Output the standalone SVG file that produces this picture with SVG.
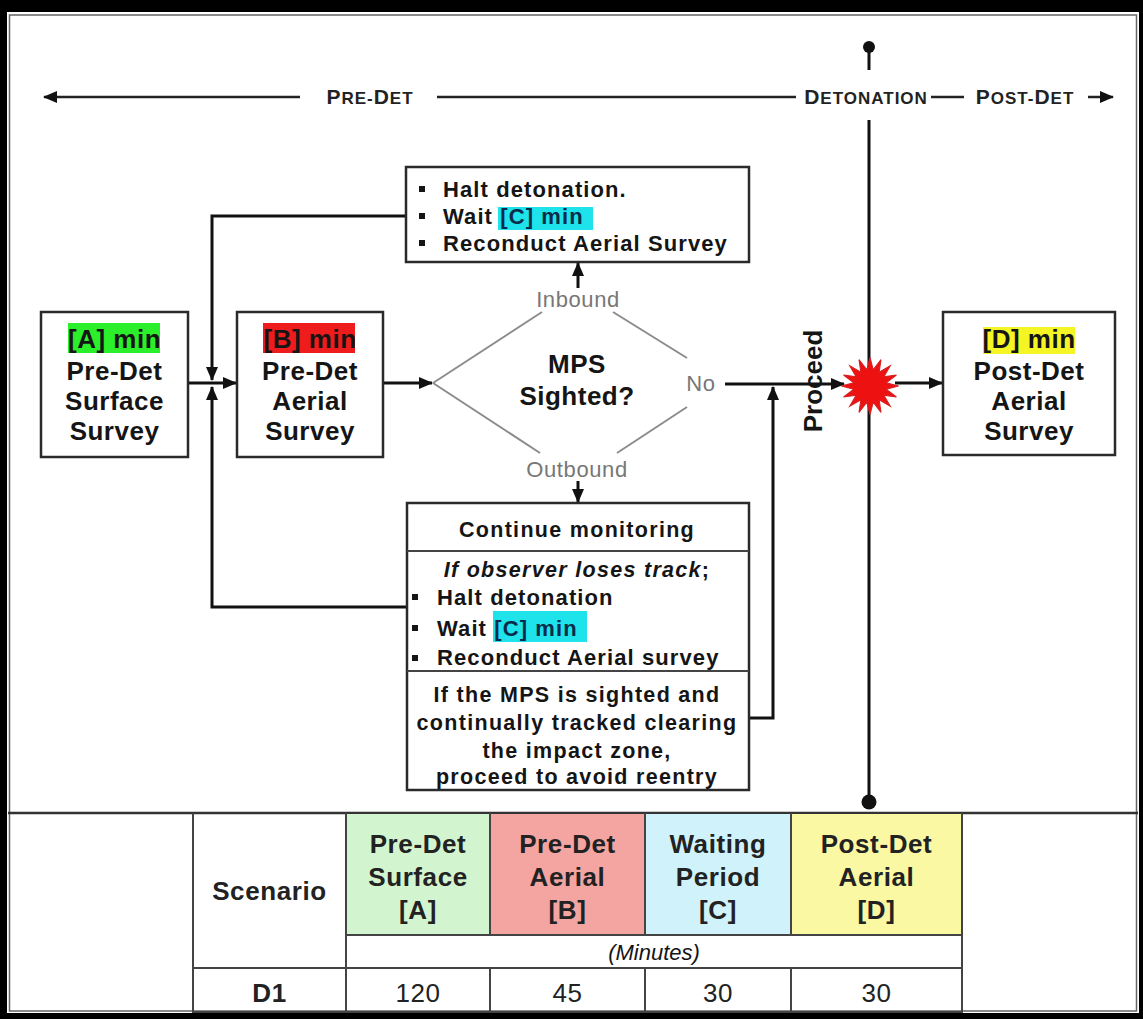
<svg xmlns="http://www.w3.org/2000/svg" width="1143" height="1019" viewBox="0 0 1143 1019">
<defs>
<style>
.box{fill:#fff;stroke:#2a2a2a;stroke-width:2.5}
.conn{fill:none;stroke:#111;stroke-width:3}
.tline{fill:none;stroke:#222;stroke-width:2.5}
.gray{fill:none;stroke:#8c8c8c;stroke-width:2}
.grid{fill:none;stroke:#444;stroke-width:2}
.t{font-family:"Liberation Sans",Arial,sans-serif;fill:#151515}
.nb{font-size:26px;font-weight:bold;text-anchor:middle;letter-spacing:0.5px}
.bl{font-size:22px;font-weight:bold;letter-spacing:1.1px}
.bc{font-size:21.5px;font-weight:bold;letter-spacing:1.3px;text-anchor:middle}
.gl{font-size:22px;fill:#777;text-anchor:middle;letter-spacing:0.6px}
.tl{font-weight:bold;letter-spacing:1px;fill:#222;text-anchor:middle}
.th{font-size:26px;font-weight:bold;text-anchor:middle;fill:#222;letter-spacing:0.6px}
.td{font-size:26px;text-anchor:middle;fill:#222;letter-spacing:0.6px}
.hc{fill:#0b2b4b}
</style>
<marker id="ah" viewBox="0 0 14 12" refX="13" refY="6" markerWidth="14" markerHeight="12" markerUnits="userSpaceOnUse" orient="auto">
<path d="M0,0 L14,6 L0,12 z" fill="#111"/>
</marker>
</defs>

<g id="frame">
<rect x="0" y="0" width="1143" height="1019" fill="#000"/>
<rect x="7" y="12" width="1132" height="1001" fill="#fff"/>
<rect x="9.5" y="15" width="1127" height="996" fill="none" stroke="#666" stroke-width="1.5"/>
</g>

<g id="timeline">
<line class="tline" x1="300" y1="97" x2="44" y2="97" marker-end="url(#ah)"/>
<text class="t tl" x="370" y="104"><tspan font-size="21">P</tspan><tspan font-size="17">RE-</tspan><tspan font-size="21">D</tspan><tspan font-size="17">ET</tspan></text>
<line class="tline" x1="437" y1="97" x2="796" y2="97"/>
<text class="t tl" x="866" y="104"><tspan font-size="21">D</tspan><tspan font-size="17">ETONATION</tspan></text>
<line class="tline" x1="931" y1="97" x2="964" y2="97"/>
<text class="t tl" x="1025" y="104"><tspan font-size="21">P</tspan><tspan font-size="17">OST-</tspan><tspan font-size="21">D</tspan><tspan font-size="17">ET</tspan></text>
<line class="tline" x1="1088" y1="97" x2="1113" y2="97" marker-end="url(#ah)"/>
<circle cx="869" cy="47" r="6" fill="#111"/>
<line class="conn" x1="869" y1="47" x2="869" y2="70"/>
</g>

<g id="connectors">
<line class="conn" x1="869" y1="120" x2="869" y2="802"/>
<circle cx="869" cy="802" r="7.5" fill="#111"/>
<line class="conn" x1="188" y1="383" x2="236" y2="383" marker-end="url(#ah)"/>
<path class="conn" d="M406,216 H212 V380" marker-end="url(#ah)"/>
<path class="conn" d="M407,607 H212 V387" marker-end="url(#ah)"/>
<line class="conn" x1="383" y1="383" x2="432" y2="383" marker-end="url(#ah)"/>
<line class="conn" x1="578" y1="288" x2="578" y2="263" marker-end="url(#ah)"/>
<line class="conn" x1="578" y1="481" x2="578" y2="502" marker-end="url(#ah)"/>
<line class="conn" x1="725" y1="384" x2="844" y2="384" marker-end="url(#ah)"/>
<path class="conn" d="M749,718 H773 V387" marker-end="url(#ah)"/>
<line class="conn" x1="895" y1="383" x2="942" y2="383" marker-end="url(#ah)"/>
</g>

<g id="node-a">
<rect class="box" x="41" y="312" width="147" height="145"/>
<rect x="68" y="323" width="92" height="30" fill="#2bef2b"/>
<text class="t nb" x="114.5" y="348">[A] min</text>
<text class="t nb" x="114.5" y="380">Pre-Det</text>
<text class="t nb" x="114.5" y="410">Surface</text>
<text class="t nb" x="114.5" y="440">Survey</text>
</g>

<g id="node-b">
<rect class="box" x="237" y="312" width="146" height="145"/>
<rect x="263" y="323" width="92" height="30" fill="#ee1c1c"/>
<text class="t nb" x="310" y="348" fill="#3a0000">[B] min</text>
<text class="t nb" x="310" y="380">Pre-Det</text>
<text class="t nb" x="310" y="410">Aerial</text>
<text class="t nb" x="310" y="440">Survey</text>
</g>

<g id="node-halt">
<rect class="box" x="406" y="167" width="343" height="95"/>
<rect x="498" y="207" width="95" height="23" fill="#1ee3ea"/>
<rect x="419" y="186" width="6" height="6" fill="#151515"/>
<rect x="419" y="213" width="6" height="6" fill="#151515"/>
<rect x="419" y="240" width="6" height="6" fill="#151515"/>
<text class="t bl" x="443" y="197">Halt detonation.</text>
<text class="t bl" x="443" y="224">Wait <tspan class="hc">[C] min</tspan></text>
<text class="t bl" x="443" y="251">Reconduct Aerial Survey</text>
</g>

<g id="decision">
<line class="gray" x1="433" y1="383" x2="542" y2="312"/>
<line class="gray" x1="613" y1="312" x2="687" y2="358"/>
<line class="gray" x1="687" y1="407" x2="617" y2="453"/>
<line class="gray" x1="540" y1="453" x2="433" y2="383"/>
<text class="t gl" x="578" y="307">Inbound</text>
<text class="t gl" x="701" y="391">No</text>
<text class="t gl" x="577" y="477">Outbound</text>
<text class="t nb" x="577" y="373">MPS</text>
<text class="t nb" x="577" y="405">Sighted?</text>
</g>

<g id="node-monitor">
<rect class="box" x="407" y="503" width="342" height="287"/>
<line class="grid" x1="407" y1="551" x2="749" y2="551"/>
<line class="grid" x1="407" y1="671" x2="749" y2="671"/>
<text class="t bc" x="577" y="537">Continue monitoring</text>
<text class="t bc" x="577" y="577" font-style="italic">If observer loses track<tspan font-style="normal">;</tspan></text>
<rect x="493" y="611" width="94" height="31" fill="#1ee3ea"/>
<rect x="412" y="594" width="6" height="6" fill="#151515"/>
<rect x="412" y="625" width="6" height="6" fill="#151515"/>
<rect x="412" y="655" width="6" height="6" fill="#151515"/>
<text class="t bl" x="437" y="605">Halt detonation</text>
<text class="t bl" x="437" y="636">Wait <tspan class="hc">[C] min</tspan></text>
<text class="t bl" x="437" y="665">Reconduct Aerial survey</text>
<text class="t bc" x="577" y="702">If the MPS is sighted and</text>
<text class="t bc" x="577" y="730">continually tracked clearing</text>
<text class="t bc" x="577" y="758">the impact zone,</text>
<text class="t bc" x="577" y="784">proceed to avoid reentry</text>
</g>

<g id="proceed">
<text class="t" transform="translate(822,381) rotate(-90)" font-size="26" font-weight="bold" text-anchor="middle">Proceed</text>
</g>

<g id="detonation-star">
<polygon fill="#ee1111" stroke="#d82020" stroke-width="1" transform="translate(870,386) scale(1.1) translate(-870,-386)" points="896,386 884.7,388.9 894,396 882.5,394.3 888.4,404.4 878.3,398.5 880,410 872.9,400.7 870,412 867.1,400.7 860,410 861.7,398.5 851.6,404.4 857.5,394.3 846,396 855.3,388.9 844,386 855.3,383.1 846,376 857.5,377.7 851.6,367.6 861.7,373.5 860,362 867.1,371.3 870,360 872.9,371.3 880,362 878.3,373.5 888.4,367.6 882.5,377.7 894,376 884.7,383.1"/>
</g>

<g id="node-d">
<rect class="box" x="943" y="312" width="172" height="143"/>
<rect x="983" y="327" width="92" height="27" fill="#f5f526"/>
<text class="t nb" x="1029" y="348">[D] min</text>
<text class="t nb" x="1029" y="380">Post-Det</text>
<text class="t nb" x="1029" y="410">Aerial</text>
<text class="t nb" x="1029" y="440">Survey</text>
</g>

<g id="table">
<line x1="8" y1="813" x2="1138" y2="813" stroke="#333" stroke-width="2.5"/>
<rect x="346" y="814" width="144" height="121" fill="#d2f5cf"/>
<rect x="490" y="814" width="155" height="121" fill="#f4a5a2"/>
<rect x="645" y="814" width="146" height="121" fill="#d0f2fa"/>
<rect x="791" y="814" width="171" height="121" fill="#fbf8a3"/>
<line class="grid" x1="193" y1="813" x2="193" y2="1013"/>
<line class="grid" x1="346" y1="813" x2="346" y2="1013"/>
<line class="grid" x1="490" y1="813" x2="490" y2="935"/>
<line class="grid" x1="645" y1="813" x2="645" y2="935"/>
<line class="grid" x1="791" y1="813" x2="791" y2="935"/>
<line class="grid" x1="490" y1="968" x2="490" y2="1013"/>
<line class="grid" x1="645" y1="968" x2="645" y2="1013"/>
<line class="grid" x1="791" y1="968" x2="791" y2="1013"/>
<line class="grid" x1="962" y1="813" x2="962" y2="1013"/>
<line class="grid" x1="346" y1="935" x2="962" y2="935"/>
<line class="grid" x1="193" y1="968" x2="962" y2="968"/>
<line class="grid" x1="193" y1="1012" x2="962" y2="1012"/>
<text class="t th" x="269.5" y="900">Scenario</text>
<text class="t th" x="418" y="853">Pre-Det</text>
<text class="t th" x="418" y="886">Surface</text>
<text class="t th" x="418" y="919">[A]</text>
<text class="t th" x="567.5" y="853">Pre-Det</text>
<text class="t th" x="567.5" y="886">Aerial</text>
<text class="t th" x="567.5" y="919">[B]</text>
<text class="t th" x="718" y="853">Waiting</text>
<text class="t th" x="718" y="886">Period</text>
<text class="t th" x="718" y="919">[C]</text>
<text class="t th" x="876.5" y="853">Post-Det</text>
<text class="t th" x="876.5" y="886">Aerial</text>
<text class="t th" x="876.5" y="919">[D]</text>
<text class="t" x="654" y="960" font-size="22" font-style="italic" text-anchor="middle" fill="#222">(Minutes)</text>
<text class="t th" x="269.5" y="1002">D1</text>
<text class="t td" x="418" y="1002">120</text>
<text class="t td" x="567.5" y="1002">45</text>
<text class="t td" x="718" y="1002">30</text>
<text class="t td" x="876.5" y="1002">30</text>
</g>
</svg>
